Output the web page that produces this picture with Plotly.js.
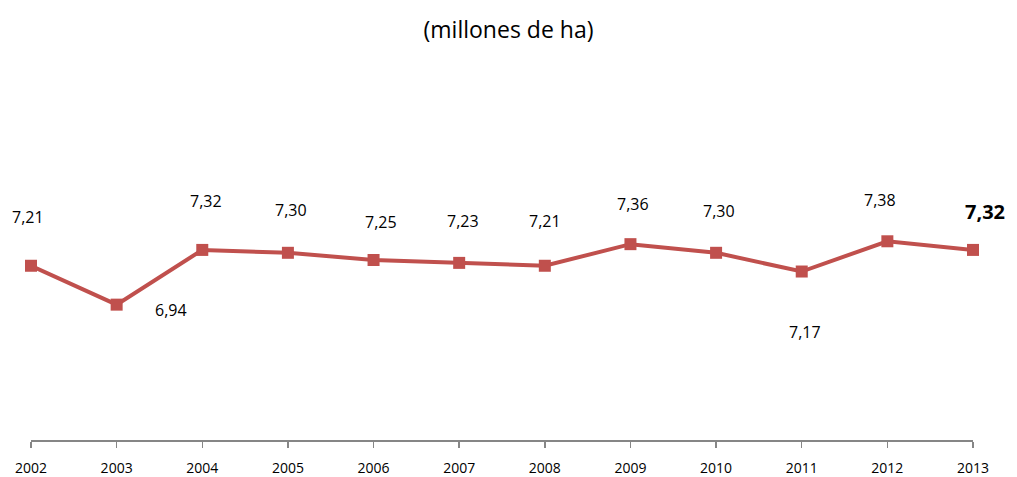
<!DOCTYPE html>
<html>
<head>
<meta charset="utf-8">
<script src="https://cdn.plot.ly/plotly-3.0.1.min.js"></script>
<style>html,body{margin:0;padding:0;background:#fff;}#chart{width:1017px;height:477px;}</style>
</head>
<body>
<div id="chart"></div>
<script>
const years = ["2002","2003","2004","2005","2006","2007","2008","2009","2010","2011","2012","2013"];
const values = [7.21, 6.94, 7.32, 7.30, 7.25, 7.23, 7.21, 7.36, 7.30, 7.17, 7.38, 7.32];
const titleText = "(millones de ha)";

// label placement offsets (pixels) relative to each point
const labelDx = [-3, 54, 4, 3, 7, 4, 0, 3, 3, 3, -7, 12];
const labelDy = [49, -5, 49, 43, 38, 42, 45, 40, 42, -60, 41, 38];

const fmt = v => v.toFixed(2).replace('.', ',');
const idx = years.map((_, i) => i);

const annotations = values.map((v, i) => ({
  x: idx[i], y: v, xref: 'x', yref: 'y',
  text: i === values.length - 1 ? '<b>' + fmt(v) + '</b>' : fmt(v),
  showarrow: false,
  xshift: labelDx[i], yshift: labelDy[i],
  font: {family: 'Open Sans, sans-serif', size: i === values.length - 1 ? 20 : 16, color: '#000'}
}));

const trace = {
  x: idx, y: values, type: 'scatter', mode: 'lines+markers',
  cliponaxis: false,
  line: {color: '#C0504D', width: 4},
  marker: {symbol: 'square', size: 12, color: '#C0504D'},
  hoverinfo: 'skip'
};

const layout = {
  width: 1017, height: 477,
  margin: {l: 31, r: 44, t: 152, b: 37},
  paper_bgcolor: '#fff', plot_bgcolor: '#fff',
  showlegend: false,
  title: {text: titleText, x: 0.5, xanchor: 'center', y: 0.937, yanchor: 'middle',
          font: {family: 'Open Sans, sans-serif', size: 23, color: '#000'}},
  xaxis: {
    type: 'linear', range: [0, years.length - 1],
    tickmode: 'array', tickvals: idx, ticktext: years,
    showline: true, linecolor: '#868686', linewidth: 1.5,
    ticks: 'outside', ticklen: 6, tickcolor: '#868686', tickwidth: 1.5,
    ticklabelstandoff: 9,
    showgrid: false, zeroline: false,
    tickfont: {family: 'Open Sans, sans-serif', size: 14, color: '#000'}
  },
  yaxis: {
    range: [6, 8], showgrid: false, zeroline: false, showline: false,
    showticklabels: false, ticks: '', fixedrange: true
  },
  annotations: annotations
};

Plotly.newPlot('chart', [trace], layout, {displayModeBar: false, staticPlot: true});
</script>
</body>
</html>
